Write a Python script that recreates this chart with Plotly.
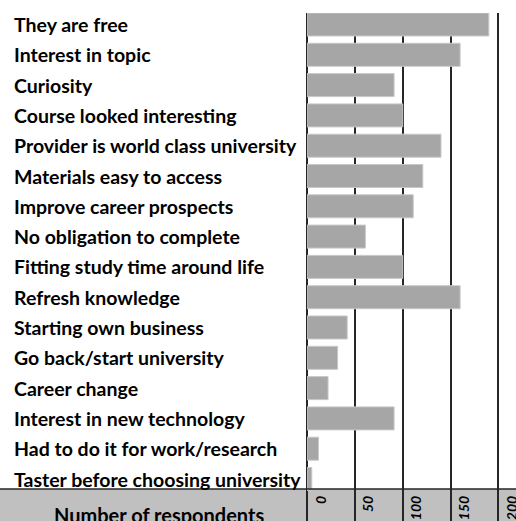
import plotly.graph_objects as go

categories = [
    "They are free",
    "Interest in topic",
    "Curiosity",
    "Course looked interesting",
    "Provider is world class university",
    "Materials easy to access",
    "Improve career prospects",
    "No obligation to complete",
    "Fitting study time around life",
    "Refresh knowledge",
    "Starting own business",
    "Go back/start university",
    "Career change",
    "Interest in new technology",
    "Had to do it for work/research",
    "Taster before choosing university",
]
respondents = [190, 160, 91, 100, 140, 121, 111, 61, 100, 160, 42, 32, 22, 91, 12, 5]
tick_values = [0, 50, 100, 150, 200]
tick_labels = ["0", "50", "100", "150", "200"]
axis_title = "Number of respondents"

W, H = 516, 521
ML, MT = 307, 13
PW, PH = W - ML, H - MT
band_top_px = 489
band_frac = (H - band_top_px) / PH
label_x = (13 - ML) / PW

fig = go.Figure(
    go.Bar(
        x=respondents,
        y=categories,
        orientation="h",
        marker=dict(color="#a6a6a6", line=dict(color="#c8c8c8", width=1)),
        width=0.76,
        hoverinfo="skip",
    )
)

for c in categories:
    fig.add_annotation(
        x=label_x, xref="paper", y=c, yref="y",
        text=c, showarrow=False, xanchor="left", yanchor="middle",
        borderpad=0,
        font=dict(family="Lato", size=19.5, color="#000000", weight="bold"),
    )

fig.add_annotation(
    x=(159 - ML) / PW, xref="paper", y=(H - 502) / PH, yref="paper",
    text=axis_title, showarrow=False, xanchor="center", yanchor="top",
    borderpad=0,
    font=dict(family="Lato", size=20, color="#000000", weight="bold"),
)

# grey band behind axis labels
fig.add_shape(type="rect", xref="paper", yref="paper",
              x0=-ML / PW, x1=1, y0=-0.01, y1=band_frac,
              fillcolor="#c0c0c0", line=dict(width=0), layer="below")
fig.add_shape(type="line", xref="paper", yref="paper",
              x0=-ML / PW, x1=1, y0=band_frac, y1=band_frac,
              line=dict(color="#262626", width=1.5), layer="above")

pitch = 30.3
top_val = -(24.5 - MT) / pitch
bot_val = 15 + (H - 479) / pitch

fig.update_layout(
    template="none",
    width=W, height=H,
    margin=dict(l=ML, r=0, t=MT, b=0, pad=0, autoexpand=False),
    plot_bgcolor="rgba(0,0,0,0)", paper_bgcolor="white",
    showlegend=False,
    xaxis=dict(
        range=[0, PW / 0.957],
        tickvals=tick_values, ticktext=tick_labels,
        showgrid=True, gridcolor="#262626", gridwidth=2,
        zeroline=True, zerolinecolor="#262626", zerolinewidth=2,
        showline=False, ticks="", automargin=False,
        anchor="free", position=band_frac, side="bottom",
        tickangle=-90, ticklabeloverflow="allow",
        ticklabelshift=14, ticklabelstandoff=3,
        tickfont=dict(family="Lato", size=14, color="#000000", weight="bold", style="italic"),
    ),
    yaxis=dict(
        range=[bot_val, top_val],
        domain=[0, 1], automargin=False,
        showticklabels=False, showgrid=False, zeroline=False, ticks="",
        categoryorder="array", categoryarray=categories,
    ),
)

fig.write_html(
    "out.html",
    config={"displayModeBar": False},
    post_script="document.body.style.margin='0';document.body.style.overflow='hidden';",
)
